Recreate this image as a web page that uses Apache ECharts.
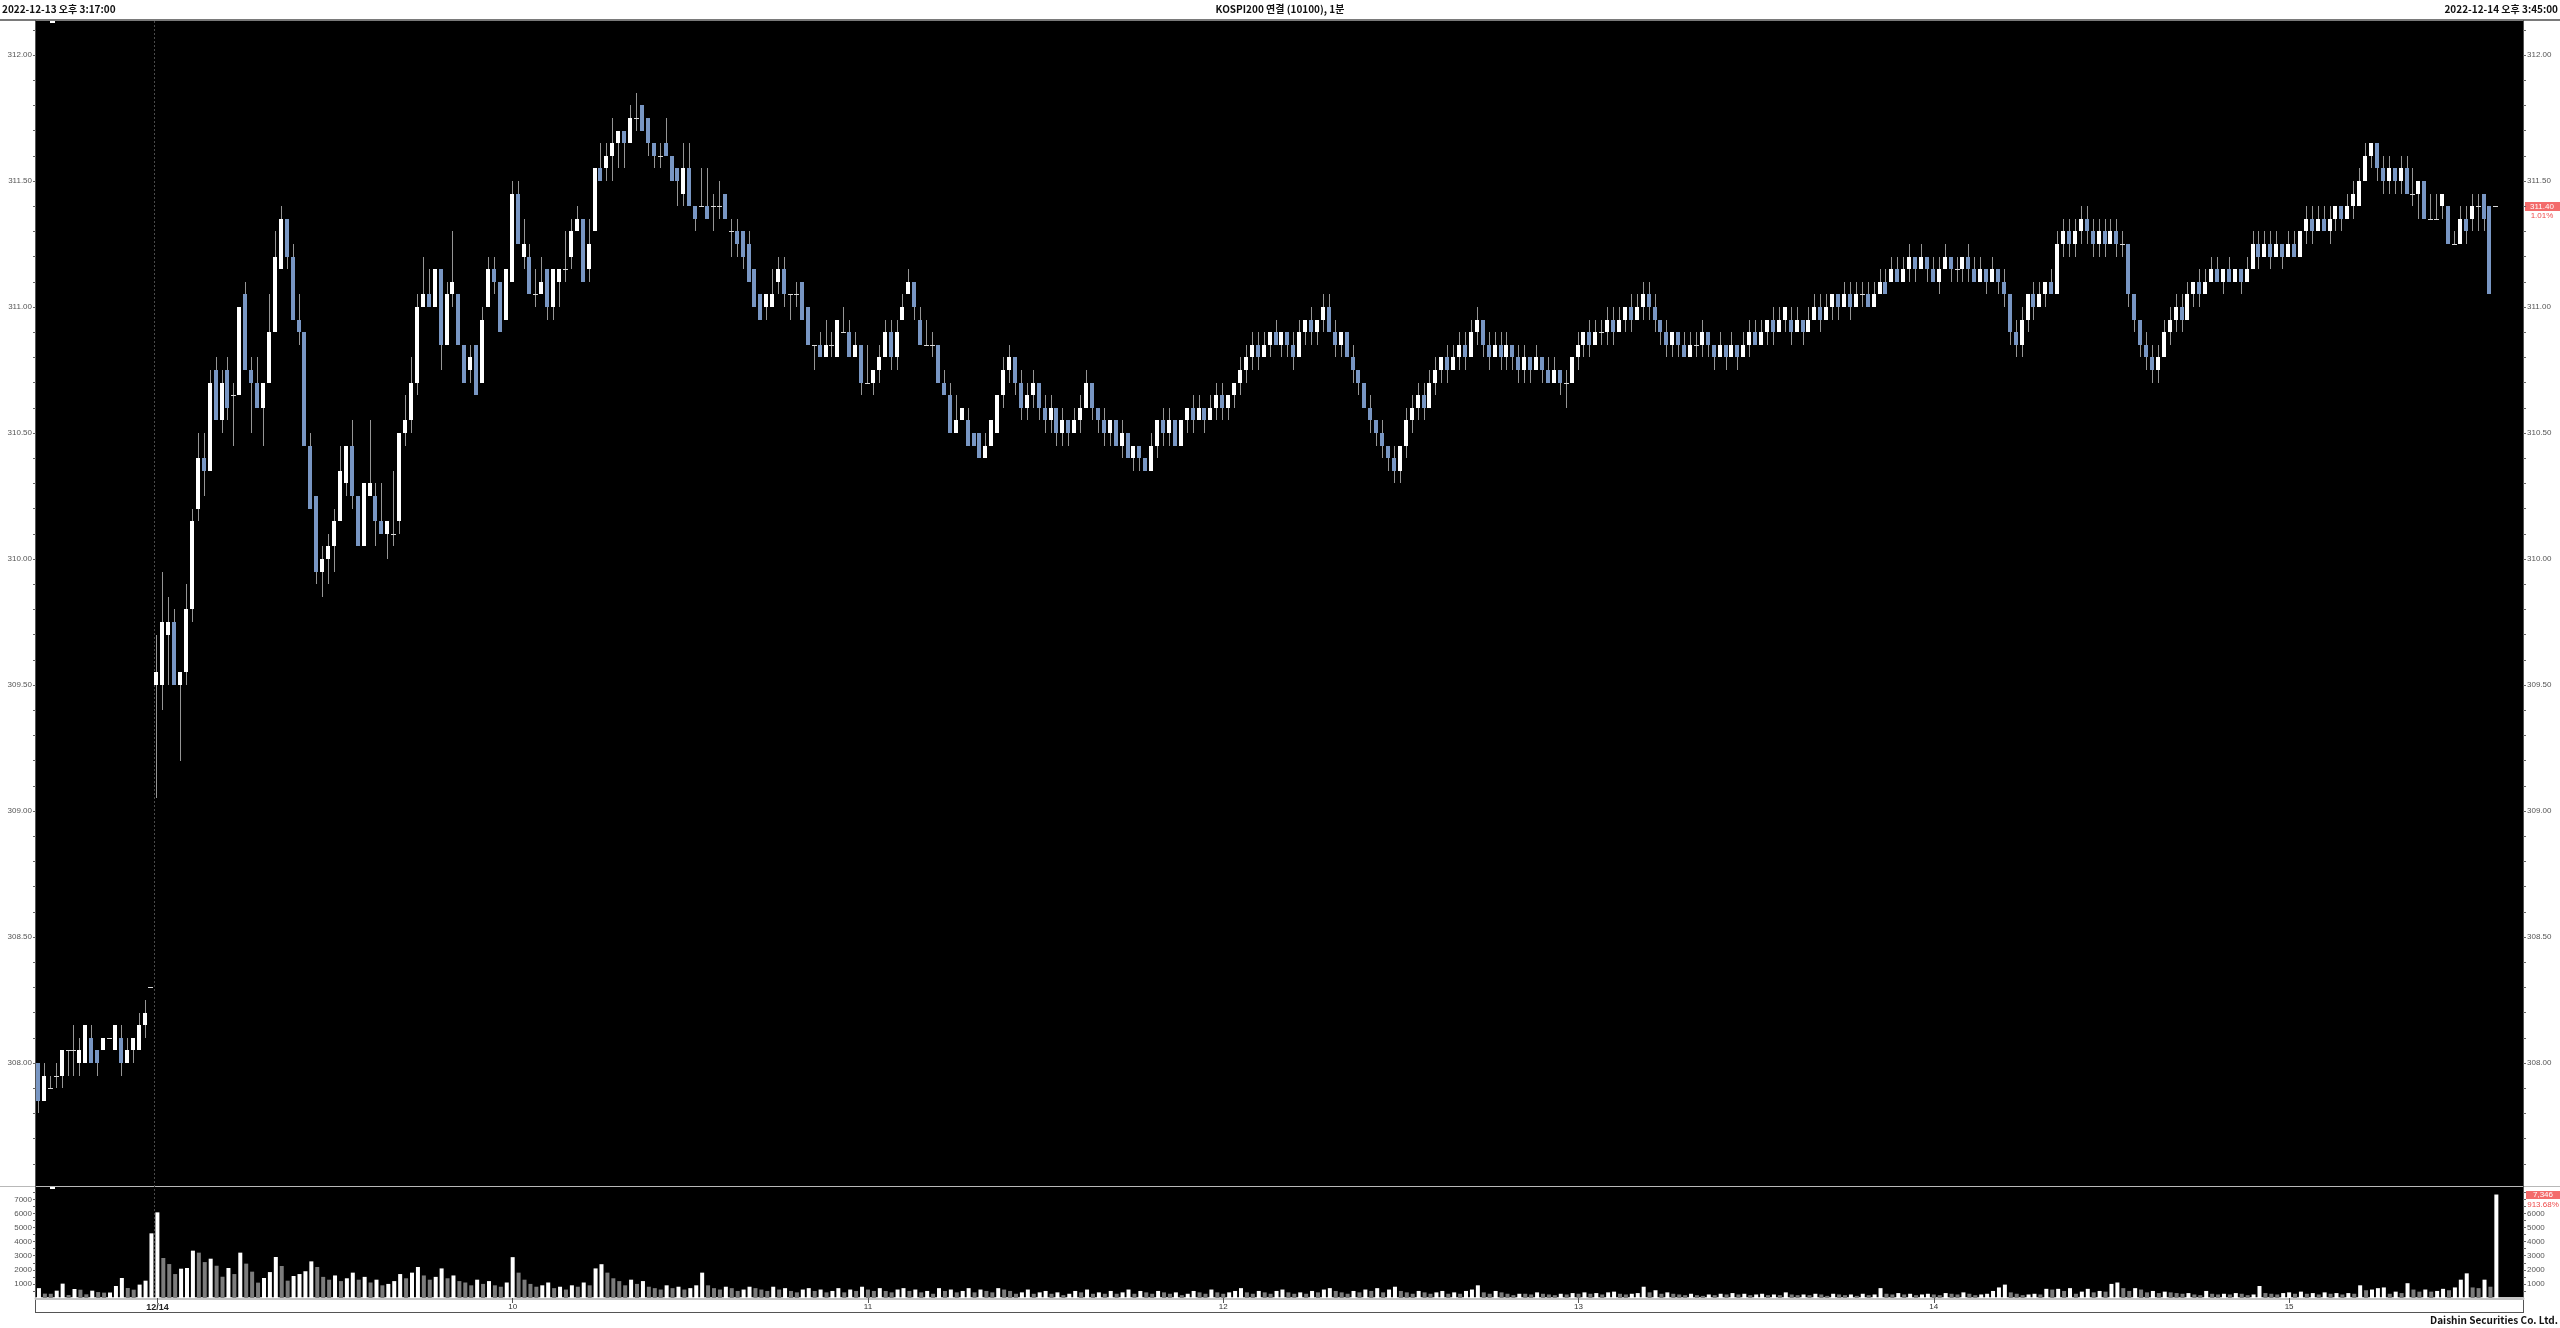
<!DOCTYPE html>
<html><head><meta charset="utf-8">
<script src="https://cdn.jsdelivr.net/npm/echarts@6/dist/echarts.min.js"></script>
<style>html,body{margin:0;padding:0;background:#fff;overflow:hidden}#c{width:2560px;height:1328px}</style>
</head><body><div id="c"></div>
<script>
// ---- data: [open, close, low, high] ----
const day13Candles = [
[308.00,307.85,307.80,308.00],[307.85,307.95,307.85,308.00],[307.90,307.90,307.90,307.95],[307.95,307.95,307.90,308.00],
[307.95,308.05,307.90,308.05],[308.05,308.05,307.95,308.05],[308.05,308.05,307.95,308.15],[308.00,308.05,307.95,308.10],
[308.00,308.15,308.00,308.15],[308.10,308.00,308.00,308.15],[308.05,308.00,307.95,308.05],[308.05,308.10,308.05,308.10],
[308.10,308.10,308.10,308.10],[308.05,308.15,308.05,308.15],[308.10,308.00,307.95,308.15],[308.00,308.05,308.00,308.10],
[308.05,308.10,308.00,308.10],[308.05,308.15,308.05,308.20],[308.15,308.20,308.10,308.25],[308.30,308.30,308.30,308.30]
];
const day14MorningCandles = [
[309.50,309.55,309.05,309.70],[309.50,309.75,309.40,309.95],[309.70,309.75,309.50,309.85],[309.75,309.50,309.50,309.80],
[309.50,309.55,309.20,309.55],[309.55,309.80,309.50,309.90],[309.80,310.15,309.75,310.20],[310.20,310.40,310.15,310.50],
[310.40,310.35,310.25,310.50],[310.35,310.70,310.35,310.75],[310.75,310.55,310.55,310.80],[310.55,310.70,310.50,310.75],
[310.75,310.60,310.55,310.80],[310.65,310.65,310.45,310.70],[310.65,311.00,310.65,311.00],[311.05,310.75,310.75,311.10],
[310.75,310.70,310.50,310.80],[310.70,310.60,310.60,310.80],[310.60,310.70,310.45,310.70],[310.70,310.90,310.70,311.05],
[310.90,311.20,310.90,311.30],[311.15,311.35,311.15,311.40],[311.35,311.20,311.15,311.35],[311.20,310.95,310.95,311.25],
[310.95,310.90,310.85,311.05],[310.90,310.45,310.45,310.90],[310.45,310.20,310.20,310.50],[310.25,309.95,309.90,310.25],
[309.95,310.00,309.85,310.05],[310.00,310.05,309.90,310.10],[310.05,310.15,309.95,310.20],[310.15,310.35,310.15,310.45],
[310.30,310.45,310.25,310.45],[310.45,310.25,310.20,310.55],[310.25,310.05,310.05,310.25],[310.05,310.30,310.05,310.30],
[310.25,310.30,310.25,310.55],[310.25,310.15,310.05,310.30],[310.15,310.10,310.10,310.30],[310.10,310.15,310.00,310.15],
[310.10,310.10,310.05,310.35],[310.15,310.50,310.10,310.50],[310.50,310.55,310.45,310.65],[310.55,310.70,310.50,310.80],
[310.70,311.00,310.65,311.05],[311.00,311.05,311.00,311.20],[311.05,311.00,311.00,311.15],[311.00,311.15,311.00,311.15],
[311.15,310.85,310.75,311.15],[310.85,311.05,310.85,311.10],[311.05,311.10,311.00,311.30],[311.05,310.85,310.85,311.05],
[310.85,310.70,310.70,310.85],[310.75,310.80,310.70,310.85],[310.85,310.65,310.65,310.85],[310.70,310.95,310.70,311.00],
[311.00,311.15,311.00,311.20],[311.15,311.10,311.05,311.20],[311.10,310.90,310.90,311.10],[310.95,311.15,310.95,311.15],
[311.10,311.45,311.10,311.50],[311.45,311.25,311.25,311.50],[311.20,311.25,311.15,311.35],[311.20,311.05,311.05,311.25],
[311.05,311.05,311.00,311.15],[311.05,311.10,311.05,311.20],[311.15,311.00,310.95,311.15],[311.00,311.15,310.95,311.15],
[311.10,311.15,311.00,311.15],[311.15,311.15,311.10,311.30],[311.20,311.30,311.15,311.35],[311.30,311.35,311.30,311.40],
[311.35,311.10,311.10,311.35],[311.15,311.25,311.10,311.35],[311.30,311.55,311.30,311.55],[311.55,311.50,311.50,311.65],
[311.55,311.60,311.50,311.65],[311.60,311.65,311.50,311.75],[311.65,311.70,311.55,311.70],[311.70,311.65,311.55,311.70],
[311.65,311.75,311.65,311.80],[311.75,311.75,311.70,311.85],[311.80,311.70,311.70,311.80],[311.75,311.65,311.60,311.75],
[311.65,311.60,311.55,311.65],[311.60,311.60,311.55,311.65],[311.65,311.60,311.60,311.75],[311.60,311.50,311.50,311.60],
[311.55,311.50,311.40,311.55],[311.45,311.55,311.40,311.65],[311.55,311.40,311.40,311.65],[311.40,311.35,311.30,311.40],
[311.40,311.40,311.40,311.55],[311.40,311.35,311.35,311.55],[311.40,311.40,311.30,311.45],[311.40,311.40,311.35,311.50],
[311.45,311.35,311.35,311.45],[311.30,311.30,311.20,311.35],[311.30,311.25,311.20,311.35],[311.30,311.20,311.15,311.30],
[311.25,311.10,311.10,311.30],[311.15,311.00,311.00,311.15],[311.05,310.95,310.95,311.05],[311.00,311.05,310.95,311.05],
[311.00,311.05,311.00,311.15],[311.10,311.15,311.05,311.20],[311.15,311.05,311.00,311.20],[311.05,311.05,310.95,311.05],
[311.05,311.05,311.00,311.10],[311.10,310.95,310.95,311.10],[311.00,310.85,310.85,311.00],[310.85,310.85,310.75,310.85],
[310.85,310.80,310.80,310.90],[310.80,310.85,310.80,310.95],[310.85,310.85,310.80,310.90],[310.80,310.95,310.80,310.95],
[310.90,310.90,310.90,311.00],[310.90,310.80,310.80,310.95],[310.80,310.85,310.80,310.90],[310.85,310.70,310.65,310.85],
[310.70,310.70,310.70,310.85],[310.70,310.75,310.65,310.75],[310.75,310.80,310.70,310.85],[310.80,310.90,310.80,310.95],
[310.90,310.80,310.75,310.95],[310.80,310.90,310.75,310.95],[310.95,311.00,310.95,311.05],[311.05,311.10,311.05,311.15],
[311.10,311.00,310.95,311.10],[310.95,310.85,310.85,311.00],[310.85,310.85,310.85,310.95],[310.85,310.85,310.80,310.90],
[310.85,310.70,310.70,310.85],[310.70,310.65,310.65,310.75],[310.65,310.50,310.50,310.70],[310.50,310.55,310.50,310.65],
[310.55,310.60,310.55,310.60],[310.55,310.45,310.45,310.60],[310.50,310.45,310.45,310.50],[310.50,310.40,310.40,310.50],
[310.40,310.45,310.40,310.50],[310.45,310.55,310.45,310.55]
];
const day14MiddayCandles = [
[310.50,310.65,310.50,310.65],[310.65,310.75,310.60,310.80],[310.75,310.80,310.70,310.85],[310.80,310.70,310.65,310.80],
[310.70,310.60,310.55,310.75],[310.60,310.65,310.55,310.70],[310.65,310.70,310.60,310.75],[310.70,310.60,310.55,310.70],
[310.60,310.55,310.50,310.65],[310.55,310.60,310.50,310.65],[310.60,310.50,310.45,310.60],[310.50,310.55,310.45,310.60],
[310.55,310.50,310.45,310.55],[310.50,310.55,310.50,310.60],[310.55,310.60,310.50,310.65],[310.60,310.70,310.60,310.75],
[310.70,310.60,310.55,310.70],[310.60,310.55,310.50,310.60],[310.55,310.50,310.45,310.60],[310.50,310.55,310.45,310.55],
[310.55,310.45,310.45,310.55],[310.45,310.50,310.40,310.55],[310.50,310.40,310.40,310.50],[310.40,310.45,310.35,310.45],
[310.45,310.40,310.35,310.45],[310.40,310.35,310.35,310.40],[310.35,310.45,310.35,310.50],[310.45,310.55,310.40,310.55],
[310.55,310.50,310.45,310.60],[310.50,310.55,310.45,310.60],[310.55,310.45,310.45,310.55],[310.45,310.55,310.45,310.55],
[310.55,310.60,310.50,310.60],[310.60,310.55,310.50,310.65],[310.55,310.60,310.55,310.65],[310.60,310.55,310.50,310.60],
[310.55,310.60,310.55,310.65],[310.60,310.65,310.55,310.70],[310.65,310.60,310.55,310.70],[310.60,310.65,310.55,310.65],
[310.65,310.70,310.60,310.70],[310.70,310.75,310.65,310.80],[310.75,310.80,310.70,310.85],[310.80,310.85,310.75,310.90],
[310.85,310.80,310.75,310.90],[310.80,310.85,310.80,310.90],[310.85,310.90,310.80,310.90],[310.90,310.85,310.85,310.95],
[310.85,310.90,310.80,310.90],[310.90,310.85,310.80,310.90],[310.85,310.80,310.75,310.90],[310.80,310.90,310.80,310.95],
[310.90,310.95,310.85,310.95],[310.95,310.90,310.85,311.00],[310.90,310.95,310.85,310.95],[310.95,311.00,310.90,311.05],
[311.00,310.90,310.90,311.05],[310.90,310.85,310.80,310.95],[310.85,310.90,310.80,310.90],[310.90,310.80,310.80,310.90],
[310.80,310.75,310.70,310.85],[310.75,310.70,310.65,310.75],[310.70,310.60,310.60,310.70],[310.60,310.55,310.50,310.65],
[310.55,310.50,310.45,310.55],[310.50,310.45,310.40,310.55],[310.45,310.40,310.35,310.45],[310.40,310.35,310.30,310.45],
[310.35,310.45,310.30,310.45],[310.45,310.55,310.40,310.60],[310.55,310.60,310.50,310.65],[310.60,310.65,310.55,310.70],
[310.65,310.60,310.55,310.70],[310.60,310.70,310.60,310.75],[310.70,310.75,310.65,310.80],[310.75,310.80,310.70,310.80],
[310.80,310.75,310.70,310.85],[310.75,310.80,310.75,310.85],[310.80,310.85,310.75,310.90],[310.85,310.80,310.75,310.90],
[310.80,310.90,310.80,310.95],[310.90,310.95,310.85,311.00],[310.95,310.85,310.80,310.95],[310.85,310.80,310.75,310.90],
[310.80,310.85,310.80,310.90],[310.85,310.80,310.75,310.90],[310.80,310.85,310.75,310.90],[310.85,310.80,310.75,310.85],
[310.80,310.75,310.70,310.85],[310.75,310.80,310.70,310.85],[310.80,310.75,310.70,310.80],[310.75,310.80,310.75,310.85],
[310.80,310.75,310.70,310.80],[310.75,310.70,310.70,310.80],[310.70,310.75,310.70,310.80],[310.75,310.70,310.65,310.75],
[310.70,310.70,310.60,310.75],[310.70,310.80,310.70,310.80],[310.80,310.85,310.75,310.90]
];
const day14AfternoonCandles = [
[310.85,310.90,310.80,310.90],[310.90,310.85,310.80,310.95],[310.85,310.90,310.85,310.95],[310.90,310.90,310.85,310.95],
[310.90,310.95,310.85,311.00],[310.95,310.90,310.85,311.00],[310.90,310.95,310.90,311.00],[310.95,311.00,310.90,311.00],
[311.00,310.95,310.90,311.05],[310.95,311.00,310.95,311.05],[311.00,311.05,310.95,311.10],[311.05,311.00,310.95,311.10],
[311.00,310.95,310.90,311.05],[310.95,310.90,310.85,310.95],[310.90,310.85,310.80,310.95],[310.85,310.90,310.80,310.90],
[310.90,310.85,310.80,310.90],[310.85,310.80,310.80,310.90],[310.80,310.85,310.80,310.90],[310.85,310.85,310.80,310.90],
[310.85,310.90,310.80,310.95],[310.90,310.85,310.80,310.90],[310.85,310.80,310.75,310.85],[310.80,310.85,310.80,310.90],
[310.85,310.80,310.75,310.85],[310.80,310.85,310.80,310.90],[310.85,310.80,310.75,310.85],[310.80,310.85,310.80,310.90],
[310.85,310.90,310.80,310.95],[310.90,310.85,310.85,310.95],[310.85,310.90,310.85,310.95],[310.90,310.95,310.85,310.95],
[310.95,310.90,310.85,311.00],[310.90,310.95,310.90,311.00],[310.95,311.00,310.90,311.00],[310.95,310.90,310.85,311.00],
[310.90,310.95,310.90,311.00],[310.95,310.90,310.85,310.95],[310.90,310.95,310.90,311.00],[310.95,311.00,310.95,311.05],
[311.00,310.95,310.90,311.05],[310.95,311.00,310.95,311.05],[311.00,311.05,310.95,311.05],[311.05,311.00,310.95,311.05],
[311.00,311.05,311.00,311.10],[311.05,311.00,310.95,311.10],[311.00,311.05,311.00,311.10],[311.05,311.05,311.00,311.10],
[311.05,311.00,311.00,311.10],[311.00,311.05,311.00,311.10],[311.05,311.10,311.05,311.15],[311.10,311.05,311.05,311.15],
[311.10,311.15,311.10,311.20],[311.15,311.10,311.10,311.20],[311.10,311.15,311.10,311.20],[311.15,311.20,311.10,311.25],
[311.20,311.15,311.10,311.20],[311.15,311.20,311.15,311.25],[311.20,311.15,311.10,311.20],[311.15,311.10,311.10,311.20],
[311.10,311.15,311.05,311.20],[311.15,311.20,311.15,311.25],[311.20,311.15,311.10,311.20],[311.15,311.15,311.10,311.20],
[311.15,311.20,311.10,311.20],[311.20,311.15,311.10,311.25],[311.15,311.10,311.10,311.20],[311.10,311.15,311.10,311.20],
[311.15,311.10,311.05,311.15],[311.10,311.15,311.10,311.20],[311.15,311.10,311.05,311.15],[311.10,311.05,311.00,311.15],
[311.05,310.90,310.85,311.05],[310.90,310.85,310.80,310.95],[310.85,310.95,310.80,311.00],[310.95,311.05,310.90,311.05],
[311.05,311.00,310.95,311.10],[311.00,311.05,311.00,311.10],[311.05,311.10,311.00,311.10],[311.10,311.05,311.05,311.15],
[311.05,311.25,311.05,311.30],[311.25,311.30,311.20,311.35],[311.30,311.25,311.20,311.35],[311.25,311.30,311.20,311.35],
[311.30,311.35,311.25,311.40],[311.35,311.30,311.25,311.40],[311.30,311.25,311.20,311.35],[311.25,311.30,311.20,311.35],
[311.30,311.25,311.20,311.35],[311.25,311.30,311.25,311.35],[311.30,311.25,311.20,311.35],[311.25,311.25,311.20,311.30],
[311.25,311.05,311.00,311.25],[311.05,310.95,310.90,311.05],[310.95,310.85,310.80,310.95],[310.85,310.80,310.75,310.90],
[310.80,310.75,310.70,310.85],[310.75,310.80,310.70,310.85],[310.80,310.90,310.80,310.95],[310.90,310.95,310.85,311.00],
[310.95,311.00,310.90,311.05],[311.00,310.95,310.90,311.05],[310.95,311.05,310.95,311.10],[311.05,311.10,311.00,311.10],
[311.10,311.05,311.00,311.15],[311.05,311.10,311.05,311.15],[311.10,311.15,311.10,311.20],[311.15,311.10,311.10,311.20],
[311.10,311.15,311.05,311.15],[311.15,311.10,311.10,311.20],[311.10,311.15,311.10,311.15],[311.15,311.10,311.05,311.15],
[311.10,311.15,311.10,311.20],[311.15,311.25,311.15,311.30],[311.25,311.20,311.15,311.30],[311.20,311.25,311.20,311.30],
[311.25,311.20,311.15,311.30],[311.20,311.25,311.20,311.30],[311.25,311.20,311.15,311.25],[311.20,311.25,311.20,311.30],
[311.25,311.20,311.20,311.30],[311.20,311.30,311.20,311.30],[311.30,311.35,311.25,311.40],[311.35,311.30,311.25,311.40],
[311.30,311.35,311.30,311.40],[311.35,311.30,311.30,311.40],[311.30,311.35,311.25,311.40],[311.35,311.40,311.30,311.40],
[311.40,311.35,311.30,311.40],[311.35,311.40,311.35,311.45],[311.40,311.45,311.35,311.50],[311.40,311.50,311.40,311.55],
[311.50,311.60,311.50,311.65],[311.60,311.65,311.55,311.65],[311.65,311.55,311.50,311.65],[311.55,311.50,311.45,311.60],
[311.50,311.55,311.45,311.60],[311.55,311.50,311.45,311.55],[311.50,311.55,311.45,311.60],[311.55,311.45,311.45,311.60],
[311.45,311.45,311.40,311.55],[311.45,311.50,311.35,311.50],[311.50,311.35,311.35,311.50],[311.35,311.35,311.35,311.45],
[311.35,311.35,311.35,311.45],[311.40,311.45,311.35,311.45],[311.40,311.25,311.25,311.40],[311.25,311.25,311.25,311.30],
[311.25,311.35,311.25,311.40],[311.35,311.30,311.25,311.40],[311.35,311.40,311.30,311.45],[311.40,311.40,311.30,311.45],
[311.45,311.35,311.30,311.45],[311.40,311.05,311.05,311.40],[311.40,311.40,311.40,311.40]
];
const day13Volumes = [700,310,300,520,1020,210,640,590,260,520,420,380,390,850,1420,710,590,950,1230,4590];
const day14Volumes = [
6080,2840,2410,1700,2080,2130,3360,3220,2550,2790,2290,1510,2130,1700,3220,2440,1870,1090,1420,1840,2910,2270,1230,1560,1700,
1900,2600,2200,1500,1300,1600,1200,1400,1800,1300,1500,1100,1300,900,1000,1200,
1700,1400,1800,2200,1600,1300,1500,2100,1400,1600,1200,1100,900,1300,1000,1200,900,800,1100,2900,
1800,1300,1000,800,900,1100,700,800,600,900,800,1100,900,2100,2400,1800,1400,1200,900,1300,
1000,1200,800,700,600,900,700,800,600,700,900,1800,900,700,600,800,700,500,600,800,
700,600,500,800,600,700,500,400,600,700,500,600,400,500,700,400,600,500,800,600,
500,700,500,400,600,700,500,600,400,500,300,700,500,600,400,500,700,400,600,500,
400,700,600,500,300,400,600,300,400,500,300,400,200,300,500,400,600,300,400,300,
500,300,400,600,300,500,400,300,500,400,300,400,200,300,500,400,300,600,400,300,
400,500,700,400,300,500,400,300,500,600,400,300,400,300,500,400,600,700,500,400,
300,500,400,600,500,700,400,600,800,500,400,300,500,400,300,400,500,300,400,300,
500,600,900,400,300,500,400,300,200,300,
300,250,400,300,250,200,300,250,350,300,400,300,350,250,400,450,300,250,300,350,
800,400,550,300,400,300,250,200,300,200,150,250,200,300,250,350,250,300,200,250,
300,200,250,200,400,250,200,250,200,300,250,150,300,250,200,250,150,300,200,250,
700,300,250,350,250,300,200,250,300,250,200,350,300,250,400,300,200,250,300,500,
750,950,400,300,200,250,300,250,650,600,650,500,700,300,450,650,400,500,450,1000,
1100,700,500,700,600,400,500,350,450,400,350,300,350,250,200,500,300,250,300,250,
350,300,200,250,850,350,300,250,350,400,300,450,300,350,250,400,300,350,250,
350,300,900,550,600,700,750,300,450,350,1050,600,450,600,450,500,650,550,750,1300,
1750,750,700,1300,800,7346
];
const hourLabels = {20:'12/14',80:'10',140:'11',200:'12',260:'13',320:'14',380:'15'};
const priceLabelValues = [308.0,308.5,309.0,309.5,310.0,310.5,311.0,311.5,312.0];
const priceTickValues = [307.6,307.7,307.8,307.9,308.0,308.1,308.2,308.3,308.4,308.5,308.6,308.7,308.8,308.9,309.0,309.1,309.2,309.3,309.4,309.5,309.6,309.7,309.8,309.9,310.0,310.1,310.2,310.3,310.4,310.5,310.6,310.7,310.8,310.9,311.0,311.1,311.2,311.3,311.4,311.5,311.6,311.7,311.8,311.9,312.0,312.1];
const volumeLabelValues = [1000,2000,3000,4000,5000,6000,7000];
const volumeTickValues = [500,1000,1500,2000,2500,3000,3500,4000,4500,5000,5500,6000,6500,7000,7500];
const lastPrice = 311.40, lastPriceText = '311.40', lastChangeText = '1.01%';
const lastVolume = 7346, lastVolumeText = '7,346', volumeChangeText = '913.68%';
const headerLeft = '2022-12-13 오후 3:17:00', headerCenter = 'KOSPI200 연결 (10100), 1분', headerRight = '2022-12-14 오후 3:45:00';
const footerText = 'Daishin Securities Co. Ltd.';

// ---- categories (time slots) ----
const pad = n => (n < 10 ? '0' : '') + n;
const categories = [];
for (let m = 17; m <= 35; m++) categories.push('12/13 15:' + pad(m));
categories.push('12/13 15:45');
for (let t = 9 * 60; t < 15 * 60 + 35; t++) categories.push('12/14 ' + pad(Math.floor(t / 60)) + ':' + pad(t % 60));
categories.push('12/14 15:45');
while (categories.length < 420) categories.push('');

const candles = day13Candles.concat(day14MorningCandles, day14MiddayCandles, day14AfternoonCandles);
const volumes = day13Volumes.concat(day14Volumes);
const candleData = candles.map((c, i) => [i, c[0], c[1], c[2], c[3]]);
const volumeData = volumes.map((v, i) => ({
  value: [i, v],
  itemStyle: { color: (i === 0 || v > volumes[i - 1]) ? '#ffffff' : '#7c7c7c' }
}));

const UP = '#ffffff', DOWN = '#7896c3', WICK = '#959595';
function renderCandle(params, api) {
  const i = api.value(0), o = api.value(1), c = api.value(2), l = api.value(3), h = api.value(4);
  const po = api.coord([i, o]), pc = api.coord([i, c]), pl = api.coord([i, l]), ph = api.coord([i, h]);
  const cx = Math.round(po[0]);
  const yh = Math.round(ph[1]), yl = Math.round(pl[1]);
  const top = Math.round(Math.min(po[1], pc[1])), bot = Math.round(Math.max(po[1], pc[1]));
  const children = [{ type: 'rect', shape: { x: cx - 1, y: yh, width: 1, height: Math.max(1, yl - yh) }, style: { fill: WICK } }];
  if (bot - top < 1) {
    children.push({ type: 'rect', shape: { x: cx - 3, y: top, width: 5, height: 1 }, style: { fill: '#d8d8d8' } });
  } else {
    children.push({ type: 'rect', shape: { x: cx - 3, y: top, width: 4, height: bot - top }, style: { fill: c < o ? DOWN : UP } });
  }
  return { type: 'group', children };
}

const FONT = 'Liberation Sans, Arial, sans-serif';
const chart = echarts.init(document.getElementById('c'), null, { renderer: 'canvas' });
const priceAxis = (pos) => ({
  type: 'value', gridIndex: 0, position: pos, min: 307.512, max: 312.139, scale: true,
  axisLine: { show: false }, splitLine: { show: false },
  axisTick: { show: true, customValues: priceTickValues, length: 3, lineStyle: { color: '#666' } },
  axisLabel: { customValues: priceLabelValues, formatter: v => v.toFixed(2), fontSize: 8, color: '#555', margin: 4, fontFamily: FONT }
});
const volAxis = (pos, labels) => ({
  type: 'value', gridIndex: 1, position: pos, min: 0, max: 7880,
  axisLine: { show: false }, splitLine: { show: false },
  axisTick: { show: true, customValues: volumeTickValues, length: 3, lineStyle: { color: '#666' } },
  axisLabel: { customValues: labels, formatter: v => String(v), fontSize: 8, color: '#555', margin: 4, fontFamily: FONT }
});
const isHour = (idx) => hourLabels[idx] !== undefined;
chart.setOption({
  backgroundColor: '#ffffff',
  animation: false,
  grid: [
    { left: 36, right: 37, top: 20, height: 1166, show: true, backgroundColor: '#000', borderWidth: 0 },
    { left: 36, right: 37, top: 1187, height: 111, show: true, backgroundColor: '#000', borderWidth: 0 }
  ],
  xAxis: [
    { type: 'category', gridIndex: 0, data: categories, boundaryGap: true, axisLine: { show: false }, axisTick: { show: false }, axisLabel: { show: false } },
    { type: 'category', gridIndex: 1, data: categories, boundaryGap: true,
      axisLine: { show: true, lineStyle: { color: '#c4c4c4', width: 3 } },
      axisTick: { show: true, alignWithLabel: true, interval: (i) => isHour(i), length: 5, lineStyle: { color: '#555' } },
      axisLabel: { interval: (i) => isHour(i), formatter: (v, i) => hourLabels[i] === '12/14' ? '{b|12/14}' : (hourLabels[i] || ''),
        fontSize: 8, color: '#333', margin: 5, fontFamily: FONT, rich: { b: { fontSize: 9, fontWeight: 'bold', color: '#222', fontFamily: FONT } } } }
  ],
  yAxis: [priceAxis('left'), priceAxis('right'), volAxis('left', volumeLabelValues), volAxis('right', volumeLabelValues.slice(0, 6))],
  series: [
    { type: 'custom', xAxisIndex: 0, yAxisIndex: 0, data: candleData, renderItem: renderCandle, encode: { x: 0, y: [1, 2, 3, 4] }, clip: true },
    { type: 'bar', xAxisIndex: 1, yAxisIndex: 2, data: volumeData, barWidth: 4 }
  ]
});

// ---- decorations positioned through the chart's scales ----
const sepX = (chart.convertToPixel({ xAxisIndex: 0 }, categories[19]) + chart.convertToPixel({ xAxisIndex: 0 }, categories[20])) / 2;
const tagY = chart.convertToPixel({ yAxisIndex: 1 }, lastPrice);
const volTagY = chart.convertToPixel({ yAxisIndex: 3 }, lastVolume);
const bold = { fontFamily: '"Noto Sans CJK KR", ' + FONT, fontWeight: 'bold', fontSize: 10, fill: '#111' };
chart.setOption({
  graphic: [
    { type: 'rect', shape: { x: 0, y: 0, width: 2560, height: 19 }, style: { fill: '#fff' }, silent: true },
    { type: 'text', x: 2, y: 9, style: Object.assign({ text: headerLeft, textVerticalAlign: 'middle' }, bold) },
    { type: 'text', x: 1280, y: 9, style: Object.assign({ text: headerCenter, textAlign: 'center', textVerticalAlign: 'middle' }, bold) },
    { type: 'text', x: 2558, y: 9, style: Object.assign({ text: headerRight, textAlign: 'right', textVerticalAlign: 'middle' }, bold) },
    { type: 'rect', shape: { x: 0, y: 19, width: 2560, height: 2 }, style: { fill: '#7a7a7a' } },
    { type: 'rect', shape: { x: 0, y: 1186, width: 2560, height: 1 }, style: { fill: '#b8b8b8' } },
    { type: 'rect', shape: { x: 36, y: 1312, width: 2488, height: 1 }, style: { fill: '#555' } },
    { type: 'rect', shape: { x: 35, y: 20, width: 1, height: 1293 }, style: { fill: '#555' } },
    { type: 'rect', shape: { x: 2523, y: 20, width: 1, height: 1293 }, style: { fill: '#555' } },
    { type: 'line', shape: { x1: Math.round(sepX) + 0.5, y1: 21, x2: Math.round(sepX) + 0.5, y2: 1298 }, style: { stroke: '#4a4a4a', lineWidth: 1, lineDash: [2, 2] } },
    { type: 'rect', shape: { x: 50, y: 21, width: 5, height: 2 }, style: { fill: '#fff' } },
    { type: 'rect', shape: { x: 50, y: 1187, width: 5, height: 2 }, style: { fill: '#fff' } },
    { type: 'rect', shape: { x: 2525, y: Math.round(tagY) - 4, width: 35, height: 9 }, style: { fill: '#f36b6b' } },
    { type: 'text', x: 2542, y: Math.round(tagY) + 1, style: { text: lastPriceText, fill: '#fff', fontSize: 8, fontFamily: FONT, textAlign: 'center', textVerticalAlign: 'middle' } },
    { type: 'text', x: 2542, y: Math.round(tagY) + 10, style: { text: lastChangeText, fill: '#ee4a4a', fontSize: 8, fontFamily: FONT, textAlign: 'center', textVerticalAlign: 'middle' } },
    { type: 'rect', shape: { x: 2526, y: Math.round(volTagY) - 4, width: 34, height: 8 }, style: { fill: '#f36b6b' } },
    { type: 'text', x: 2543, y: Math.round(volTagY), style: { text: lastVolumeText, fill: '#fff', fontSize: 8, fontFamily: FONT, textAlign: 'center', textVerticalAlign: 'middle' } },
    { type: 'text', x: 2543, y: Math.round(volTagY) + 10, style: { text: volumeChangeText, fill: '#ee4a4a', fontSize: 8, fontFamily: FONT, textAlign: 'center', textVerticalAlign: 'middle' } },
    { type: 'text', x: 2558, y: 1320, style: Object.assign({ text: footerText, textAlign: 'right', textVerticalAlign: 'middle' }, bold) }
  ]
});
</script></body></html>
